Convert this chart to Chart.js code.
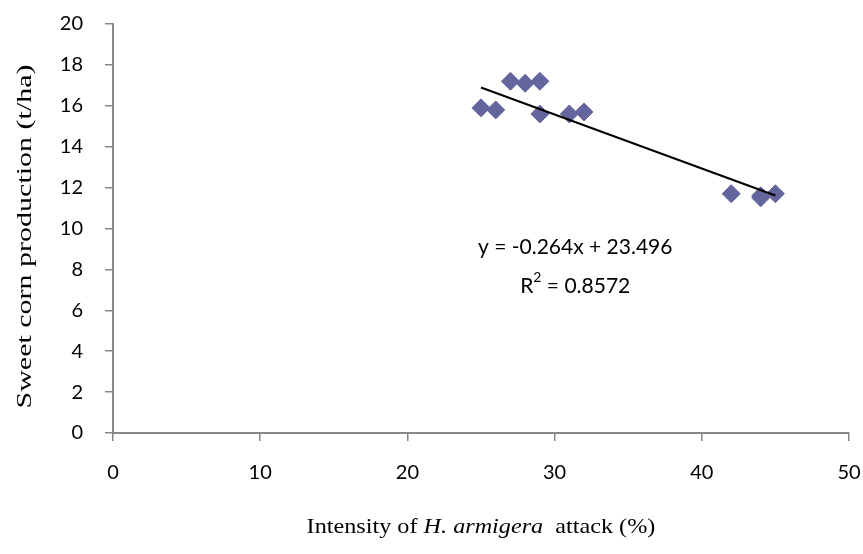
<!DOCTYPE html>
<html>
<head>
<meta charset="utf-8">
<script src="https://cdn.jsdelivr.net/npm/chart.js@4"></script>
<style>
  html, body { margin: 0; padding: 0; background: #fff; }
</style>
</head>
<body>
<canvas id="grafica" width="863" height="554"></canvas>
<script>
// dades llegides de la figura
var atac = [25, 26, 27, 28, 29, 29, 31, 32, 42, 44, 44, 45];
var produccio = [15.9, 15.8, 17.2, 17.1, 17.2, 15.6, 15.6, 15.7, 11.7, 11.6, 11.5, 11.7];
// extrems de la recta de tendència (y = -0.264x + 23.496)
var tendenciaX = [25, 45];
var tendenciaY = [16.896, 11.616];
var ticksY = [0, 2, 4, 6, 8, 10, 12, 14, 16, 18, 20];
var ticksX = [0, 10, 20, 30, 40, 50];
var equacio = 'y = -0.264x + 23.496';
var r2 = '0.8572';

var puntsDades = atac.map(function (x, i) { return { x: x, y: produccio[i] }; });
var puntsTendencia = tendenciaX.map(function (x, i) { return { x: x, y: tendenciaY[i] }; });

var grisEix = '#888888';

// textos extra: equació i títols dels eixos
var textos = {
    id: 'textos',
    afterDraw: function (chart) {
        var ctx = chart.ctx;
        var a = chart.chartArea;
        var sx = chart.scales.x, sy = chart.scales.y;
        ctx.save();
        ctx.fillStyle = '#000';
        ctx.textBaseline = 'middle';
        ctx.textAlign = 'center';

        // equació
        ctx.font = '21px Lato';
        var cx = sx.getPixelForValue(31.4);
        ctx.fillText(equacio, cx, sy.getPixelForValue(9.1));
        var yR = sy.getPixelForValue(7.2);
        var t1 = 'R', t3 = ' = ' + r2;
        var w1 = ctx.measureText(t1).width;
        ctx.font = '14px Lato';
        var w2 = ctx.measureText('2').width;
        ctx.font = '21px Lato';
        var w3 = ctx.measureText(t3).width;
        var x0 = cx - (w1 + w2 + w3) / 2;
        ctx.textAlign = 'left';
        ctx.fillText(t1, x0, yR);
        ctx.font = '14px Lato';
        ctx.fillText('2', x0 + w1, yR - 8);
        ctx.font = '21px Lato';
        ctx.fillText(t3, x0 + w1 + w2, yR);

        // títol eix x (amb cursiva), una mica estirat com a l'original
        var parts = [
            ['Intensity of ', '22px "Liberation Serif"'],
            ['H. armigera', 'italic 22px "Liberation Serif"'],
            ['  attack (%)', '22px "Liberation Serif"']
        ];
        var total = 0;
        parts.forEach(function (p) { ctx.font = p[1]; total += ctx.measureText(p[0]).width; });
        var esc = 1.1;
        ctx.save();
        ctx.translate((a.left + a.right) / 2, 527);
        ctx.scale(esc, 1);
        var px = -total / 2;
        parts.forEach(function (p) {
            ctx.font = p[1];
            ctx.fillText(p[0], px, 0);
            px += ctx.measureText(p[0]).width;
        });
        ctx.restore();

        // títol eix y
        ctx.translate(26, (a.top + a.bottom) / 2 + 8);
        ctx.rotate(-Math.PI / 2);
        ctx.scale(1.5, 1);
        ctx.textAlign = 'center';
        ctx.font = '20px "Liberation Serif"';
        ctx.fillText('Sweet corn production (t/ha)', 0, 0);
        ctx.restore();
    }
};

const ctx = document.getElementById('grafica');
const grafica = new Chart(ctx, {
    type: 'scatter',
    data: {
        datasets: [{
            label: 'Producció',
            data: puntsDades,
            pointStyle: 'rectRot',
            pointRadius: 9,
            pointHoverRadius: 9,
            backgroundColor: '#65659d',
            borderColor: '#65659d',
            borderWidth: 1,
            order: 2
        }, {
            label: 'Tendència',
            data: puntsTendencia,
            showLine: true,
            pointRadius: 0,
            borderColor: '#000000',
            borderWidth: 2,
            fill: false,
            order: 1
        }]
    },
    options: {
        responsive: false,
        animation: false,
        layout: {
            padding: { top: 24, right: 14, bottom: 0, left: 0 }
        },
        plugins: {
            legend: { display: false },
            tooltip: { enabled: false }
        },
        scales: {
            x: {
                type: 'linear',
                min: 0,
                max: 50,
                afterBuildTicks: function (s) { s.ticks = ticksX.map(function (v) { return { value: v }; }); },
                afterFit: function (s) {
                    s.height = 554 - 433;
                    s.paddingLeft = 0;
                    s.paddingRight = 0;
                },
                grid: {
                    drawOnChartArea: false,
                    color: grisEix,
                    tickLength: 8,
                    lineWidth: 1.5
                },
                border: { color: grisEix, width: 2 },
                ticks: {
                    padding: 20,
                    color: '#000',
                    font: { family: 'Lato', size: 20 }
                }
            },
            y: {
                min: 0,
                max: 20,
                afterBuildTicks: function (s) { s.ticks = ticksY.map(function (v) { return { value: v }; }); },
                afterFit: function (s) {
                    s.width = 113;
                    s.paddingTop = 0;
                    s.paddingBottom = 0;
                },
                grid: {
                    drawOnChartArea: false,
                    color: grisEix,
                    tickLength: 8,
                    lineWidth: 1.5
                },
                border: { color: grisEix, width: 2 },
                ticks: {
                    padding: 22,
                    color: '#000',
                    font: { family: 'Lato', size: 20 }
                }
            }
        }
    },
    plugins: [textos]
});
</script>
</body>
</html>
